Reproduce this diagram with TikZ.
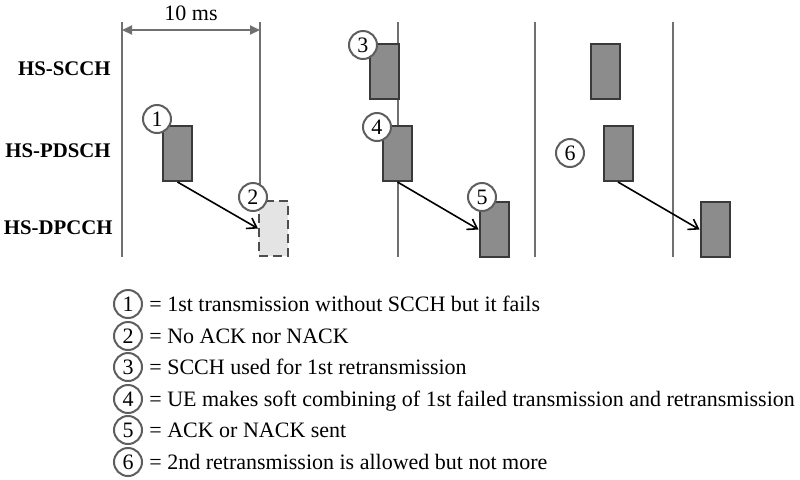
\documentclass[tikz,border=0pt]{standalone}
\usepackage{fontspec}
\setmainfont{Liberation Serif}
\usepackage{tikz}
\usetikzlibrary{arrows.meta}

\definecolor{linegray}{HTML}{707070}
\definecolor{boxfill}{HTML}{8C8C8C}
\definecolor{boxedge}{HTML}{3A3A3A}
\definecolor{lostfill}{HTML}{E4E4E4}
\definecolor{numgray}{HTML}{5E5E5E}

\begin{document}
\begin{tikzpicture}[x=0.5pt, y=-0.5pt,
    font=\fontsize{11}{13}\selectfont,
    tline/.style={draw=linegray, line width=1pt},
    slot/.style={draw=boxedge, fill=boxfill, line width=1pt, minimum width=14.5pt, minimum height=27.5pt, inner sep=0pt},
    lost/.style={slot, draw=boxedge!90, fill=lostfill, dash pattern=on 4.5pt off 2.5pt},
    num/.style={circle, draw=numgray, fill=white, line width=1pt, minimum size=14pt, inner sep=0pt},
    tx/.style={-{Straight Barb[length=4.5pt, width=6pt]}, line width=0.8pt},
    chan/.style={anchor=base east, inner sep=0pt, font=\fontsize{10.4}{13}\selectfont\bfseries},
    note/.style={anchor=base west, inner sep=0pt}]
    \useasboundingbox (0,0) rectangle (800,479);

    \coordinate (v1) at (122,22);  \coordinate (w1) at (122,257);
    \coordinate (v2) at (260,22);  \coordinate (w2) at (260,200);
    \coordinate (v3) at (398,22);  \coordinate (w3) at (398,257);
    \coordinate (v4) at (535,22);  \coordinate (w4) at (535,257);
    \coordinate (v5) at (673,22);  \coordinate (w5) at (673,257);
    \draw[tline] (v1) -- (w1);
    \draw[tline] (v2) -- (w2);
    \draw[tline] (v3) -- (w3);
    \draw[tline] (v4) -- (w4);
    \draw[tline] (v5) -- (w5);

    \coordinate (d0) at (122,30);
    \coordinate (d1) at (260,30);
    \draw[tline, {Triangle[length=5pt, width=4.5pt]}-{Triangle[length=5pt, width=4.5pt]}] (d0) -- (d1);
    \node[anchor=base] (period) at (191,20) {10 ms};

    \node[chan] (scch) at (111,75) {HS-SCCH};
    \node[chan] (pdsch) at (111,157) {HS-PDSCH};
    \node[chan] (dpcch) at (113,234) {HS-DPCCH};

    \node[slot] (b1) at (177.5,153.5) {};
    \node[lost] (b2) at (273.5,228.5) {};
    \node[slot] (b3) at (384,71.5) {};
    \node[slot] (b4) at (397.5,153.5) {};
    \node[slot] (b5) at (494,229.5) {};
    \node[slot] (b6) at (605,71.5) {};
    \node[slot] (b7) at (618,153.5) {};
    \node[slot] (b8) at (715,229.5) {};

    \draw[tx] (b1.south) -- (b2.west);
    \draw[tx] (b4.south) -- (b5.west);
    \draw[tx] (b7.south) -- (b8.west);

    \node[num] (c1) at (157,119) {1};
    \node[num] (c2) at (253,197) {2};
    \node[num] (c3) at (363,45) {3};
    \node[num] (c4) at (377,127) {4};
    \node[num] (c5) at (482,197) {5};
    \node[num] (c6) at (570,153) {6};

    \node[num] (k1) at (128,304) {1};
    \node[note] (n1) at (149,311) {= 1st transmission without SCCH but it fails};
    \node[num] (k2) at (128,336) {2};
    \node[note] (n2) at (149,343) {= No ACK nor NACK};
    \node[num] (k3) at (128,367) {3};
    \node[note] (n3) at (149,374) {= SCCH used for 1st retransmission};
    \node[num] (k4) at (128,399) {4};
    \node[note] (n4) at (149,406) {= UE makes soft combining of 1st failed transmission and retransmission};
    \node[num] (k5) at (128,430) {5};
    \node[note] (n5) at (149,437) {= ACK or NACK sent};
    \node[num] (k6) at (128,462) {6};
    \node[note] (n6) at (149,469) {= 2nd retransmission is allowed but not more};
\end{tikzpicture}
\end{document}
